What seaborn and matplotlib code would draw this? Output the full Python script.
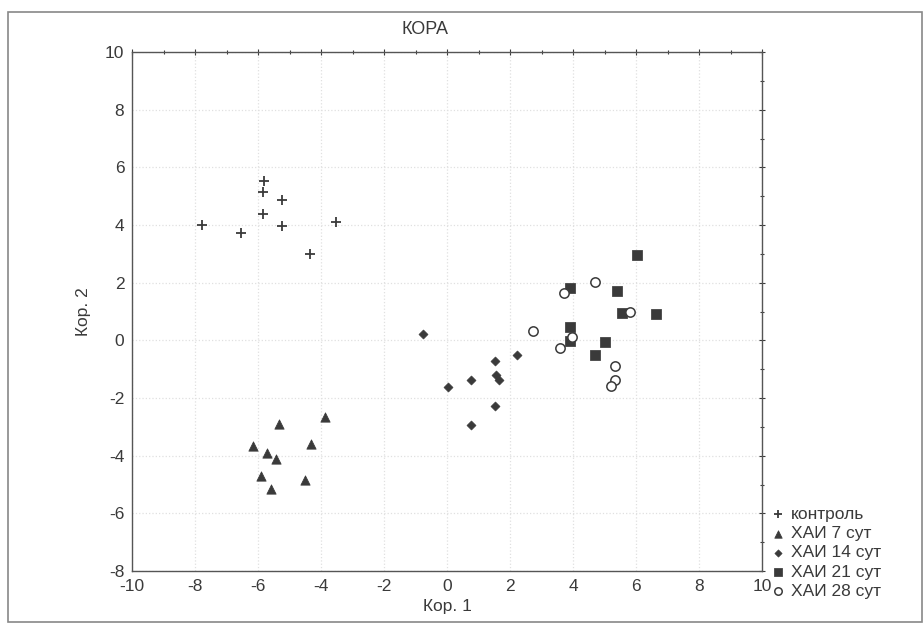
import pandas as pd
import seaborn as sns
import matplotlib.pyplot as plt
from matplotlib.patches import Rectangle
from matplotlib.ticker import MultipleLocator

# данные по группам (Кор. 1, Кор. 2)
kontrol_x = [-7.78, -6.54, -5.81, -5.84, -5.84, -5.24, -5.24, -4.35, -3.52]
kontrol_y = [4.00, 3.72, 5.54, 5.15, 4.39, 4.87, 3.97, 2.99, 4.11]

hai7_x = [-5.33, -3.88, -6.15, -4.31, -5.70, -5.43, -5.90, -4.50, -5.60]
hai7_y = [-2.90, -2.66, -3.68, -3.61, -3.92, -4.11, -4.70, -4.84, -5.14]

hai14_x = [-0.75, 1.53, 2.22, 0.77, 0.03, 1.56, 1.64, 1.51, 0.75]
hai14_y = [0.22, -0.72, -0.50, -1.39, -1.62, -1.21, -1.39, -2.29, -2.92]

hai21_x = [6.03, 3.91, 5.39, 5.55, 6.64, 3.91, 3.91, 5.01, 4.69]
hai21_y = [2.97, 1.81, 1.71, 0.95, 0.91, 0.45, -0.02, -0.06, -0.52]

hai28_x = [4.69, 3.70, 5.82, 3.97, 3.59, 5.34, 5.32, 5.20, 2.73]
hai28_y = [2.03, 1.65, 1.00, 0.10, -0.25, -0.90, -1.37, -1.57, 0.32]

labels = ['контроль', 'ХАИ 7 сут', 'ХАИ 14 сут', 'ХАИ 21 сут', 'ХАИ 28 сут']

groups = [
    (kontrol_x, kontrol_y),
    (hai7_x, hai7_y),
    (hai14_x, hai14_y),
    (hai21_x, hai21_y),
    (hai28_x, hai28_y),
]

rows = []
for lab, (xs, ys) in zip(labels, groups):
    for a, b in zip(xs, ys):
        rows.append({'Кор. 1': a, 'Кор. 2': b, 'группа': lab})
df = pd.DataFrame(rows)

sns.set_style('white')
plt.rcParams['font.family'] = ['Liberation Sans', 'DejaVu Sans']
plt.rcParams['axes.unicode_minus'] = False

ink = '#3a3a3a'
fs = 12.5
fig = plt.figure(figsize=(9.24, 6.27), dpi=100)
ax = fig.add_axes([132 / 924, 1 - 571 / 627, 630 / 924, 519 / 627])

# стиль маркеров для каждой группы
styles = {
    'контроль': dict(marker='+', s=55, color=ink, linewidth=1.3),
    'ХАИ 7 сут': dict(marker='^', s=45, color=ink, edgecolor=ink),
    'ХАИ 14 сут': dict(marker='D', s=22, color=ink, edgecolor=ink),
    'ХАИ 21 сут': dict(marker='s', s=45, color=ink, edgecolor=ink),
    'ХАИ 28 сут': dict(marker='o', s=45, color='white', edgecolor=ink, linewidth=1.1),
}

for lab in labels:
    sub = df[df['группа'] == lab]
    sns.scatterplot(data=sub, x='Кор. 1', y='Кор. 2', ax=ax, label=lab,
                    zorder=3, **styles[lab])

ax.set_xlim(-10, 10)
ax.set_ylim(-8, 10)
ax.xaxis.set_major_locator(MultipleLocator(2))
ax.yaxis.set_major_locator(MultipleLocator(2))
ax.xaxis.set_minor_locator(MultipleLocator(1))
ax.yaxis.set_minor_locator(MultipleLocator(1))
ax.tick_params(which='both', direction='inout', length=4, width=0.8, color=ink,
               top=True, right=True, labelsize=fs, labelcolor=ink)
ax.tick_params(which='minor', length=3)
ax.grid(True, which='major', color='#e0e0e0', linestyle=':', linewidth=0.9)
for sp in ax.spines.values():
    sp.set_color('#555555')
    sp.set_linewidth(1.0)

ax.set_xlabel('Кор. 1', fontsize=fs, color=ink, labelpad=4)
ax.set_ylabel('Кор. 2', fontsize=fs, color=ink, labelpad=10)

fig.text(425 / 924, 1 - 30 / 627, 'КОРА', ha='center', va='center',
         fontsize=13, color=ink)

ax.legend(loc='lower left', bbox_to_anchor=(763 / 924, 1 - 606 / 627),
          bbox_transform=fig.transFigure, frameon=False, fontsize=fs,
          handletextpad=0.3, labelspacing=0.24, borderaxespad=0,
          handlelength=0.9, markerscale=0.8, labelcolor=ink)

fig.patches.append(Rectangle((8 / 924, 5 / 627), 914 / 924, 610 / 627,
                             transform=fig.transFigure, fill=False,
                             edgecolor='#888888', linewidth=1.2))

fig.savefig('out.png', dpi=100)
